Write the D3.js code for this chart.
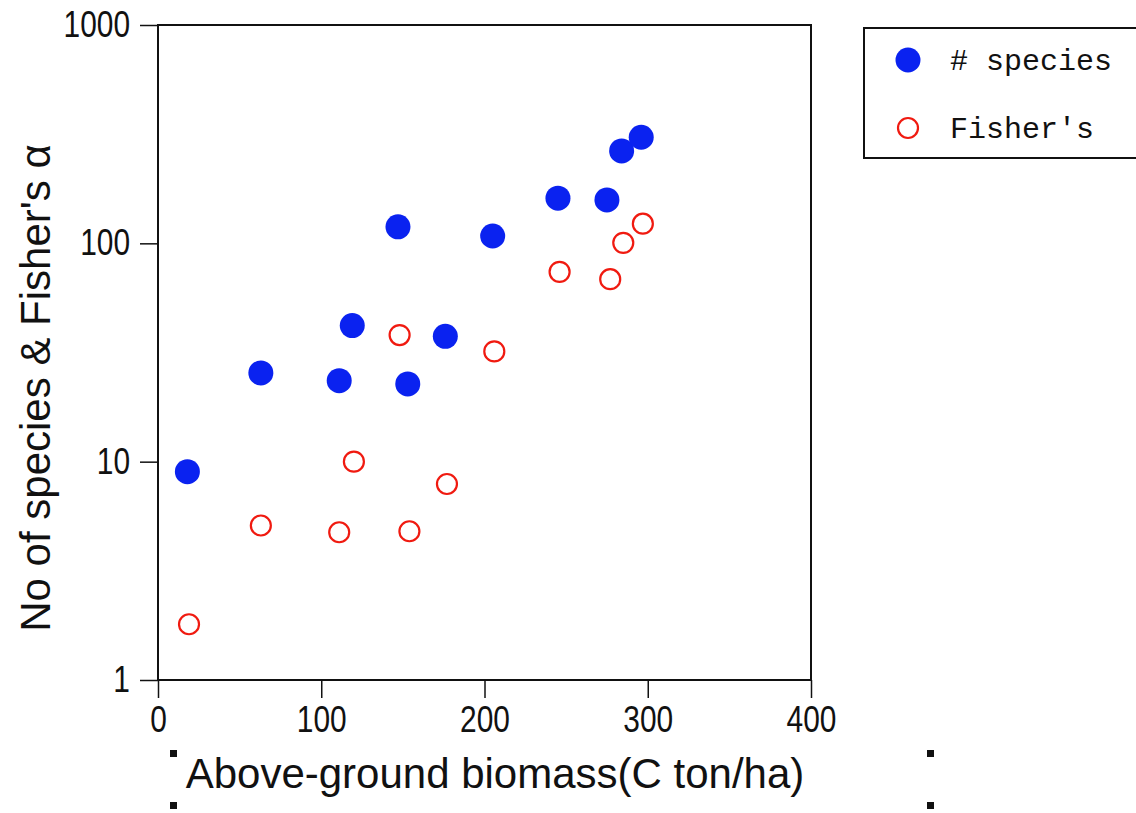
<!DOCTYPE html>
<html>
<head>
<meta charset="utf-8">
<script src="https://cdn.jsdelivr.net/npm/d3@7"></script>
<style>
  body { margin: 0; background: #fff; }
  svg { display: block; }
  .tick text { font-family: "Liberation Sans Narrow", "Arial Narrow", "Liberation Sans", sans-serif; font-size: 36px; fill: #111; }
  .title { font-family: "Liberation Sans", Arial, sans-serif; font-size: 42px; fill: #111; }
  .legend text { font-family: "Liberation Mono", "DejaVu Sans Mono", monospace; font-size: 30px; fill: #111; }
</style>
</head>
<body>
<svg id="chart" width="1136" height="813"></svg>
<script>
// biomass (C ton/ha) per plot
var biomass = [18, 63, 111, 119, 147, 153, 176, 205, 245, 275, 284, 296];
// number of species
var species = [9, 25.5, 23.5, 42, 119, 22.7, 37.5, 108, 161, 158, 265, 306];
// Fisher's alpha, same plots
var fisherX = [19, 63, 111, 120, 148, 154, 177, 206, 246, 277, 285, 297];
var fisher = [1.8, 5.1, 4.75, 10, 38, 4.8, 7.9, 32, 74, 68.5, 100.5, 123];

var xTicks = [0, 100, 200, 300, 400];
var yTicks = [1, 10, 100, 1000];
var legendLabels = ["# species", "Fisher's"];

var svg = d3.select("#chart");
var margin = {top: 25, left: 158, right: 325, bottom: 133};
var width = 1136 - margin.left - margin.right,
    height = 813 - margin.top - margin.bottom;

var g = svg.append("g").attr("transform", "translate(" + margin.left + "," + margin.top + ")");

var x = d3.scaleLinear().domain([0, 400]).range([0, width]);
var y = d3.scaleLog().domain([1, 1000]).range([height, 0]);

// frame
g.append("rect")
    .attr("width", width).attr("height", height)
    .attr("fill", "none").attr("stroke", "#111").attr("stroke-width", 2);

var xAxis = g.append("g")
    .attr("transform", "translate(0," + height + ")")
    .call(d3.axisBottom(x).tickValues(xTicks).tickSize(18).tickPadding(8).tickFormat(d3.format("d")));
var yAxis = g.append("g")
    .call(d3.axisLeft(y).tickValues(yTicks).tickSize(18).tickPadding(10).tickFormat(d3.format("d")));

[xAxis, yAxis].forEach(function(a) {
    a.select(".domain").remove();
    a.selectAll(".tick line").attr("stroke", "#111").attr("stroke-width", 1.5);
    // squeeze the digits, the original uses a narrow face
    a.selectAll(".tick text").each(function() {
        var w = this.getComputedTextLength();
        d3.select(this).attr("textLength", w * 0.83).attr("lengthAdjust", "spacingAndGlyphs");
    });
});

// blue filled dots
g.selectAll(".sp").data(biomass).enter().append("circle")
    .attr("class", "sp")
    .attr("cx", function(d) { return x(d); })
    .attr("cy", function(d, i) { return y(species[i]); })
    .attr("r", 12.5)
    .attr("fill", "#0a22f0");

// red open circles
g.selectAll(".fa").data(fisherX).enter().append("circle")
    .attr("class", "fa")
    .attr("cx", function(d) { return x(d); })
    .attr("cy", function(d, i) { return y(fisher[i]); })
    .attr("r", 10)
    .attr("fill", "none")
    .attr("stroke", "#f01a10")
    .attr("stroke-width", 2.2);

// axis titles
svg.append("text").attr("class", "title")
    .attr("x", 495).attr("y", 788)
    .attr("text-anchor", "middle")
    .text("Above-ground biomass(C ton/ha)");

svg.append("text").attr("class", "title")
    .attr("transform", "translate(50,388) rotate(-90)")
    .attr("text-anchor", "middle")
    .text("No of species & Fisher's \u03b1");

// the little selection handles around the x title
[[170, 750], [170, 802], [927, 750], [927, 802]].forEach(function(p) {
    svg.append("rect").attr("x", p[0]).attr("y", p[1])
        .attr("width", 7).attr("height", 7).attr("fill", "#111");
});

// legend
var leg = svg.append("g").attr("class", "legend");
leg.append("rect")
    .attr("x", 864).attr("y", 28).attr("width", 290).attr("height", 130)
    .attr("fill", "#fff").attr("stroke", "#111").attr("stroke-width", 2);

legendLabels.forEach(function(lab, i) {
    var cy = 60 + i * 68;
    if (i == 0) {
        leg.append("circle").attr("cx", 908).attr("cy", cy).attr("r", 12.5).attr("fill", "#0a22f0");
    } else {
        leg.append("circle").attr("cx", 908).attr("cy", cy).attr("r", 10)
            .attr("fill", "none").attr("stroke", "#f01a10").attr("stroke-width", 2.2);
    }
    leg.append("text").attr("x", 950).attr("y", cy + 10).text(lab);
});
</script>
</body>
</html>
